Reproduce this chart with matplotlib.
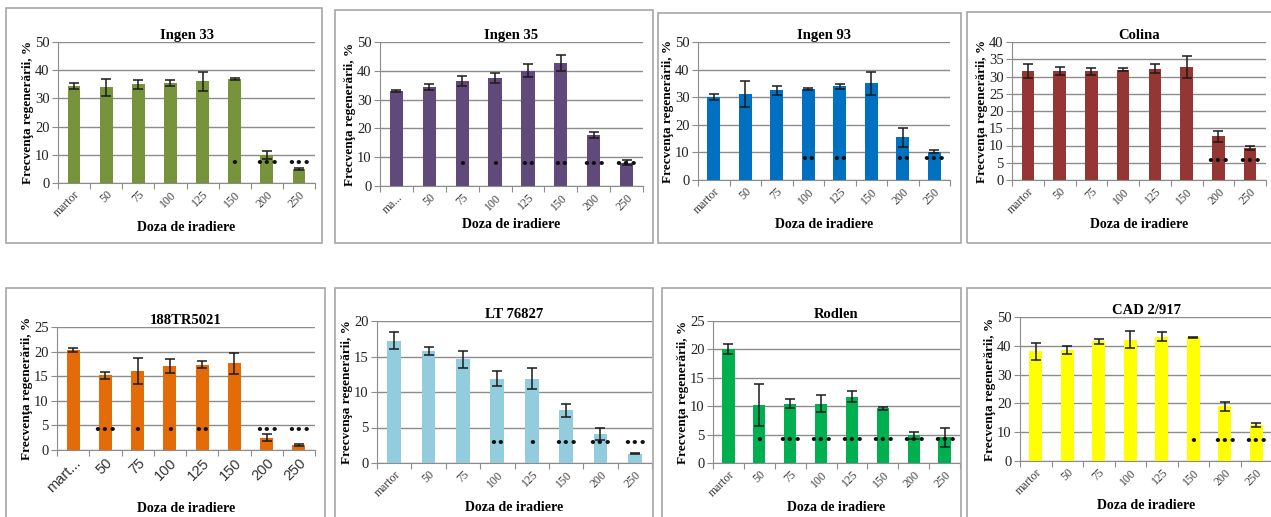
import matplotlib
matplotlib.use("Agg")
import matplotlib.pyplot as plt
from matplotlib.patches import Rectangle

W, H = 1271, 517
fig = plt.figure(figsize=(W / 100, H / 100), dpi=100)
plt.rcParams['font.family'] = ['Liberation Serif', 'DejaVu Serif']

doses = ["martor", "50", "75", "100", "125", "150", "200", "250"]

# ---- data ----
ingen33_vals = [34.5, 34.0, 35.0, 35.5, 36.0, 37.0, 10.0, 5.0]
ingen33_err = [1.0, 3.0, 1.7, 1.0, 3.3, 0.3, 1.5, 0.3]
ingen33_stars = [0, 0, 0, 0, 0, 1, 3, 3]

ingen35_vals = [33.1, 34.5, 36.5, 37.5, 40.0, 42.7, 17.7, 8.1]
ingen35_err = [0.4, 1.0, 1.8, 1.6, 2.3, 2.8, 0.9, 0.9]
ingen35_stars = [0, 0, 1, 1, 2, 2, 3, 3]

ingen93_vals = [30.0, 31.0, 32.5, 33.0, 34.0, 35.0, 15.4, 10.2]
ingen93_err = [1.0, 4.7, 1.6, 0.4, 0.9, 4.3, 3.4, 0.5]
ingen93_stars = [0, 0, 0, 2, 2, 0, 2, 3]

colina_vals = [31.5, 31.5, 31.5, 32.0, 32.3, 32.8, 12.7, 9.3]
colina_err = [2.0, 1.2, 1.1, 0.5, 1.3, 3.2, 1.6, 0.7]
colina_stars = [0, 0, 0, 0, 0, 0, 3, 3]

tr_vals = [20.4, 15.2, 16.1, 17.0, 17.3, 17.6, 2.5, 1.0]
tr_err = [0.4, 0.7, 2.6, 1.4, 0.7, 2.1, 0.7, 0.2]
tr_stars = [0, 3, 1, 1, 2, 0, 3, 3]

lt_vals = [17.2, 15.8, 14.6, 11.9, 11.9, 7.4, 4.1, 1.3]
lt_err = [1.2, 0.55, 1.2, 1.0, 1.5, 0.9, 0.8, 0.1]
lt_stars = [0, 0, 0, 2, 1, 3, 3, 3]

rodlen_vals = [20.1, 10.2, 10.4, 10.4, 11.7, 9.6, 4.9, 4.5]
rodlen_err = [0.9, 3.7, 0.8, 1.5, 0.9, 0.25, 0.6, 1.7]
rodlen_stars = [0, 1, 3, 3, 3, 3, 3, 3]

cad_vals = [38.1, 38.7, 41.6, 42.1, 43.1, 43.0, 19.0, 12.4]
cad_err = [3.0, 1.4, 0.9, 3.0, 1.6, 0.2, 1.5, 0.7]
cad_stars = [0, 0, 0, 0, 0, 1, 3, 3]

panels = [
    dict(title="Ingen 33", vals=ingen33_vals, err=ingen33_err, stars=ingen33_stars,
         ymax=50, step=10, star_y=6.9, color="#77933C", first="martor",
         ax=(58, 315, 42, 183), box=(6, 322, 8, 243), ylab="Frecvenţa regenerării, %"),
    dict(title="Ingen 35", vals=ingen35_vals, err=ingen35_err, stars=ingen35_stars,
         ymax=50, step=10, star_y=7.3, color="#604A7B", first="ma...",
         ax=(380, 643, 42, 186), box=(335, 653, 10, 243), ylab="Frecvenţa regenerării, %"),
    dict(title="Ingen 93", vals=ingen93_vals, err=ingen93_err, stars=ingen93_stars,
         ymax=50, step=10, star_y=7.5, color="#0070C0", first="martor",
         ax=(698, 950, 42, 180), box=(658, 961, 13, 243), ylab="Frecvenţa regenerării, %"),
    dict(title="Colina", vals=colina_vals, err=colina_err, stars=colina_stars,
         ymax=40, step=5, star_y=5.5, color="#943634", first="martor",
         ax=(1012, 1266, 42, 180), box=(967, 1275, 12, 243), ylab="Frecvenţa regenerării, %"),
    dict(title="188TR5021", vals=tr_vals, err=tr_err, stars=tr_stars,
         ymax=25, step=5, star_y=3.9, color="#E36C09", first="mart...",
         ax=(57, 315, 327, 450), box=(6, 325, 288, 530), ylab="Frecvenţa regenerării, %"),
    dict(title="LT 76827", vals=lt_vals, err=lt_err, stars=lt_stars,
         ymax=20, step=5, star_y=2.7, color="#93CDDD", first="martor",
         ax=(377, 652, 321, 463), box=(335, 653, 288, 530), ylab="Frecvenşa regenerării, %"),
    dict(title="Rodlen", vals=rodlen_vals, err=rodlen_err, stars=rodlen_stars,
         ymax=25, step=5, star_y=4.0, color="#00B050", first="martor",
         ax=(713, 960, 321, 463), box=(662, 961, 288, 530), ylab="Frecvenţa regenerării, %"),
    dict(title="CAD 2/917", vals=cad_vals, err=cad_err, stars=cad_stars,
         ymax=50, step=10, star_y=6.9, color="#FFFF00", first="martor",
         ax=(1020, 1272, 317, 461), box=(967, 1275, 288, 530), ylab="Frecvenţa regenerării, %"),
]

for p in panels:
    bx0, bx1, by0, by1 = p["box"]
    fig.patches.append(Rectangle((bx0 / W, 1 - by1 / H), (bx1 - bx0) / W, (by1 - by0) / H,
                                 transform=fig.transFigure, fill=False,
                                 edgecolor="#A6A6A6", linewidth=1.2))
    x0, x1, y0, y1 = p["ax"]
    ax = fig.add_axes([x0 / W, 1 - y1 / H, (x1 - x0) / W, (y1 - y0) / H])
    xs = list(range(len(doses)))
    ax.bar(xs, p["vals"], width=0.4, color=p["color"], zorder=2)
    ax.errorbar(xs, p["vals"], yerr=p["err"], fmt="none", ecolor="#1a1a1a",
                elinewidth=1.1, capsize=3.5, capthick=1.1, zorder=3)
    for x, n in zip(xs, p["stars"]):
        if n:
            ax.text(x, p["star_y"], "•" * n, ha="center", va="center",
                    fontsize=9, color="#111111", fontweight="bold", zorder=4,
                    family=["DejaVu Sans"])
    ax.set_xlim(-0.5, len(doses) - 0.5)
    ax.set_ylim(0, p["ymax"])
    ticks = list(range(0, p["ymax"] + 1, p["step"]))
    ax.set_yticks(ticks)
    ax.set_yticklabels([str(t) for t in ticks], fontsize=10.5, color="#222222")
    ax.yaxis.grid(True, color="#8C8C8C", linewidth=1.0, zorder=0)
    ax.set_axisbelow(True)
    ax.set_xticks([x + 0.5 for x in range(-1, len(doses))], minor=False)
    ax.set_xticklabels([])
    ax.set_xticks(xs, minor=True)
    labels = [p["first"]] + doses[1:]
    xl_pad = 1
    if p["title"] == "188TR5021":
        ax.set_xticklabels(labels, minor=True, rotation=45, ha="right",
                           rotation_mode="anchor", fontsize=10.5, color="#333333",
                           family=["Liberation Sans"])
        xl_pad = 5
    else:
        ax.set_xticklabels(labels, minor=True, rotation=45, ha="right",
                           rotation_mode="anchor", fontsize=8.5, color="#404040")
    ax.tick_params(axis="x", which="minor", length=0, pad=4)
    ax.tick_params(axis="x", which="major", length=4, color="#8C8C8C", direction="out")
    ax.tick_params(axis="y", length=4, color="#8C8C8C", direction="out", pad=2)
    for s in ("top", "right"):
        ax.spines[s].set_visible(False)
    ax.spines["left"].set_color("#8C8C8C")
    ax.spines["bottom"].set_color("#8C8C8C")
    ax.set_title(p["title"], fontsize=10.5, fontweight="bold", pad=2)
    ax.set_xlabel("Doza de iradiere", fontsize=10, fontweight="bold", labelpad=xl_pad)
    ax.set_ylabel(p["ylab"], fontsize=9.5, fontweight="bold", labelpad=1)

fig.savefig("out.png", dpi=100)
